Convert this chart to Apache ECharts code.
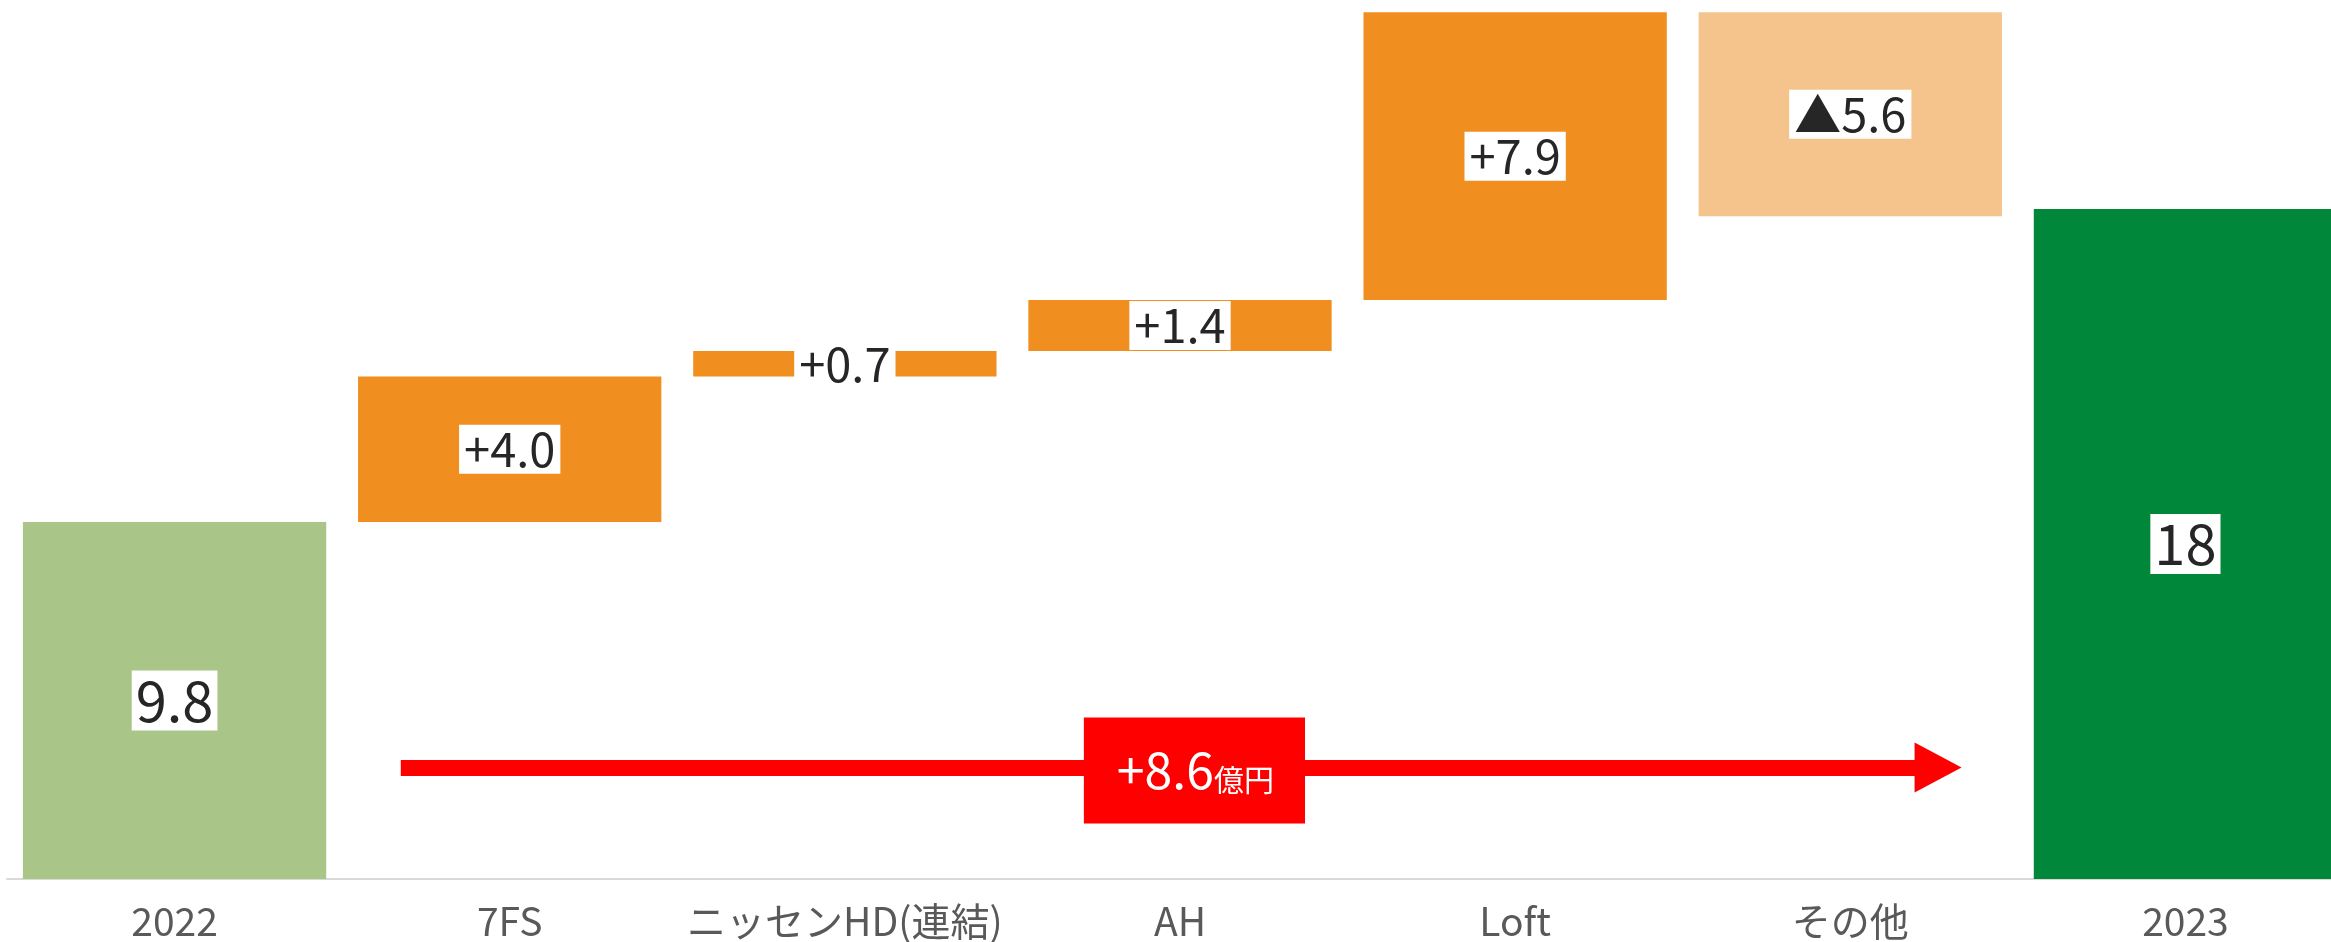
<!DOCTYPE html>
<html>
<head>
<meta charset="utf-8">
<script src="https://cdn.jsdelivr.net/npm/echarts@6/dist/echarts.min.js"></script>
<style>
html,body{margin:0;padding:0;background:#fff;overflow:hidden;width:2331px;height:942px;}
#chart{width:2353px;height:942px;}
</style>
</head>
<body>
<div id="chart"></div>
<script>
// ---- data ----
const categories = ['2022', '7FS', 'ニッセンHD(連結)', 'AH', 'Loft', 'その他', '2023'];
const startValue = 9.8;
const changes = [4.0, 0.7, 1.4, 7.9, -5.6];
const endValue = 18.4;
const valueLabels = ['9.8', '+4.0', '+0.7', '+1.4', '+7.9', '▲5.6', '18'];
const totalChangeText = '+8.6';
const totalChangeUnit = '億円';

// ---- build waterfall ----
const baseData = [];
const barData = [];
baseData.push(0); barData.push(startValue);
let cum = startValue;
changes.forEach(function (c) {
  if (c >= 0) { baseData.push(cum); barData.push(c); }
  else { baseData.push(cum + c); barData.push(-c); }
  cum += c;
});
baseData.push(0); barData.push(endValue);

const colors = ['#A9C588', '#F08E20', '#F08E20', '#F08E20', '#F08E20', '#F4C48C', '#00873A'];
const FONT = '"Noto Sans CJK JP", "Noto Sans", sans-serif';

const chart = echarts.init(document.getElementById('chart'), null, {renderer: 'canvas'});
const option = {
  animation: false,
  backgroundColor: '#ffffff',
  grid: {left: 7, right: 0, top: 5, bottom: 63, containLabel: false},
  xAxis: [{
    type: 'category',
    data: categories,
    axisLine: {show: true, lineStyle: {color: '#d9d9d9', width: 2}},
    axisTick: {show: false},
    axisLabel: {color: '#595959', fontSize: 39, lineHeight: 39, margin: 23, fontFamily: FONT, interval: 0}
  }, {
    type: 'value', min: -0.5, max: 6.5, show: false
  }],
  yAxis: {type: 'value', min: 0, max: 24, show: false, splitLine: {show: false}},
  series: [{
    type: 'bar', stack: 'w', barWidth: '90.5%', silent: true,
    itemStyle: {color: 'transparent'},
    data: baseData
  }, {
    type: 'bar', stack: 'w', barWidth: '90.5%',
    data: barData.map(function (v, i) {
      const big = (i === 0 || i === barData.length - 1);
      return {
        value: v,
        itemStyle: {color: colors[i]},
        label: {
          show: true, position: 'inside',
          formatter: valueLabels[i],
          fontSize: big ? 56 : 47,
          lineHeight: big ? 56 : 47,
          color: '#262626',
          fontFamily: FONT,
          backgroundColor: '#ffffff',
          padding: big ? [2, 4, 2, 4] : [1, 5, 1, 5]
        }
      };
    })
  }, {
    type: 'line', xAxisIndex: 1, yAxisIndex: 0, data: [], silent: true,
    markLine: {
      silent: true,
      symbol: ['none', 'triangle'],
      symbolSize: [50, 47],
      lineStyle: {color: '#FF0000', width: 16, type: 'solid'},
      label: {
        show: true, position: 'middle',
        offset: [25, 61],
        formatter: '{a|' + totalChangeText + '}{b|' + totalChangeUnit + '}',
        backgroundColor: '#FF0000',
        padding: [27, 31, 29, 33],
        rich: {
          a: {fontSize: 50, lineHeight: 50, color: '#ffffff', fontFamily: FONT, verticalAlign: 'bottom'},
          b: {fontSize: 30, lineHeight: 50, color: '#ffffff', fontFamily: FONT, verticalAlign: 'bottom'}
        }
      },
      data: [[{coord: [0.675, 3.06]}, {coord: [5.262, 3.06]}]]
    }
  }]
};
chart.setOption(option);
</script>
</body>
</html>
